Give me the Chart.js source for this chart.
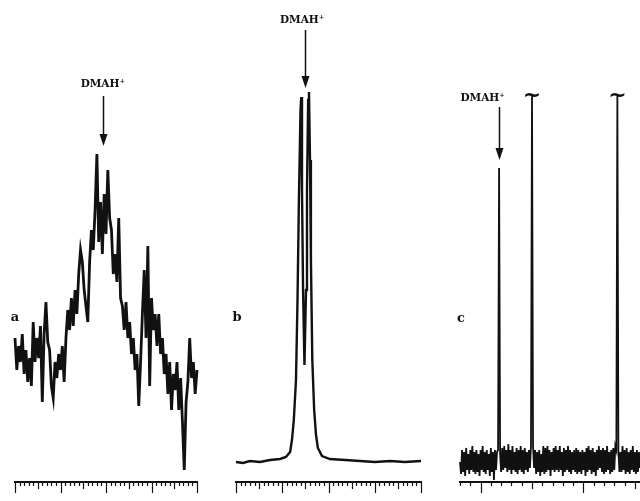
<!DOCTYPE html>
<html lang="en">
<head>
<meta charset="UTF-8" />
<title>DMAH+ spectra a, b, c</title>
<script src="https://cdn.jsdelivr.net/npm/chart.js"></script>
<style>
  html, body { margin: 0; padding: 0; background: #fff; }
  #wrap { position: relative; width: 640px; height: 501px; overflow: hidden; }
  .panel { position: absolute; top: 0; height: 501px; }
</style>
</head>
<body>
<div id="wrap">
  <div class="panel" style="left:0;width:215px"><canvas id="chartA"></canvas></div>
  <div class="panel" style="left:220px;width:210px"><canvas id="chartB"></canvas></div>
  <div class="panel" style="left:440px;width:200px"><canvas id="chartC"></canvas></div>
</div>

<script>
  // spectrum a : noisy broad band (ruler units, relative intensity)
  const aX = [0, 0.4, 0.8, 1.2, 1.6, 2.0, 2.4, 2.8, 3.2, 3.6, 4.0, 4.4, 4.8, 5.2, 5.6, 6.0, 6.4, 6.8, 7.2, 7.6,
    8.0, 8.4, 8.8, 9.2, 9.6, 10.0, 10.4, 10.8, 11.2, 11.6, 12.0, 12.4, 12.8, 13.2, 13.6, 14.0, 14.4, 14.8, 15.2, 15.6,
    16.0, 16.4, 16.8, 17.2, 17.6, 18.0, 18.4, 18.8, 19.2, 19.6, 20.0, 20.4, 20.8, 21.2, 21.6, 22.0, 22.4, 22.8, 23.2, 23.6,
    24.0, 24.4, 24.8, 25.2, 25.6, 26.0, 26.4, 26.8, 27.2, 27.6, 28.0, 28.4, 28.8, 29.2, 29.6, 30.0, 30.4, 30.8, 31.2, 31.6,
    32.0, 32.4, 32.8, 33.2, 33.6, 34.0, 34.4, 34.8, 35.2, 35.6, 36.0, 36.4, 36.8, 37.2, 37.6, 38.0, 38.4, 38.8, 39.2, 39.6,
    40.0, 40.4];
  const aY = [36, 28, 34, 30, 37, 27, 33, 25, 31, 24, 40, 30, 36, 31, 39, 20, 37, 45, 35, 33,
    24, 21, 30, 26, 32, 28, 34, 25, 36, 43, 38, 46, 39, 48, 42, 52, 58, 55, 48, 44,
    40, 55, 63, 58, 68, 82, 60, 70, 57, 72, 62, 78, 66, 63, 52, 57, 50, 66, 46, 44,
    38, 45, 36, 40, 32, 36, 28, 32, 19, 30, 42, 53, 36, 59, 24, 46, 38, 42, 34, 42,
    32, 36, 27, 32, 22, 30, 18, 27, 23, 30, 18, 26, 15, 3, 20, 25, 36, 26, 30, 22,
    28, 20];

  // spectrum b : sharp doublet
  const bX = [0, 1.5, 3.0, 5.2, 7.35, 9.5, 10.8, 11.7, 12.1, 12.5, 12.97, 13.3, 13.6, 13.95, 14.1, 14.27, 14.5, 14.8,
    15.14, 15.35, 15.6, 15.78, 16.0, 16.2, 16.5, 16.9, 17.3, 17.7, 18.6, 20.3, 23.6, 26.8, 30.05, 33.3, 36.5, 40];
  const bY = [5, 4.75, 5.25, 5, 5.5, 5.75, 6.25, 7.5, 10.5, 15.5, 25.5, 45.5, 70.5, 93, 96.25, 73, 48, 29.25,
    48, 73, 95.5, 97.5, 80.5, 55.5, 30.5, 18, 11.75, 8.5, 6.5, 5.75, 5.5, 5.25, 5, 5.25, 5, 5.25];

  // spectrum c : noisy baseline with three narrow lines
  const cX = [0, 0.1, 0.2, 0.3, 0.4, 0.5, 0.6, 0.7, 0.8, 0.9, 1.0, 1.1, 1.2, 1.3, 1.4, 1.5, 1.6, 1.7, 1.8, 1.9,
    2.0, 2.1, 2.2, 2.3, 2.4, 2.5, 2.6, 2.7, 2.8, 2.9, 3.0, 3.1, 3.2, 3.3, 3.4, 3.5, 3.6, 3.7, 3.8, 3.9,
    4.0, 4.1, 4.2, 4.3, 4.4, 4.5, 4.6, 4.7, 4.8, 4.9, 5.0, 5.1, 5.2, 5.3, 5.4, 5.5, 5.6, 5.7, 5.8, 5.9,
    6.0, 6.1, 6.2, 6.3, 6.4, 6.5, 6.6, 6.7, 6.8, 6.9, 7.0, 7.1, 7.2, 7.3, 7.4, 7.5, 7.6, 7.7, 7.8, 7.9,
    8.0, 8.1, 8.2, 8.3, 8.4, 8.5, 8.6, 8.7, 8.8, 8.9, 9.0, 9.1, 9.2, 9.3, 9.4, 9.5, 9.6, 9.7, 9.8, 9.9,
    10.0, 10.1, 10.2, 10.3, 10.4, 10.5, 10.6, 10.7, 10.8, 10.9, 11.0, 11.1, 11.2, 11.3, 11.4, 11.5, 11.6, 11.7, 11.8, 11.9,
    12.0, 12.1, 12.2, 12.3, 12.4, 12.5, 12.6, 12.7, 12.8, 12.9, 13.0, 13.1, 13.2, 13.3, 13.4, 13.5, 13.6, 13.7, 13.8, 13.9,
    14.0, 14.1, 14.2, 14.3, 14.4, 14.5, 14.6, 14.7, 14.8, 14.9, 15.0, 15.1, 15.2, 15.3, 15.4, 15.5, 15.6, 15.7, 15.8, 15.9,
    16.0, 16.1, 16.2, 16.3, 16.4, 16.5, 16.6, 16.7, 16.8, 16.9, 17.0, 17.1, 17.2, 17.3, 17.4, 17.5];
  const cY = [5, 2, 8, 2.5, 7.5, 1.5, 8.5, 3, 7, 2, 8, 3, 9, 2.5, 7.5, 2, 8, 2.5, 7, 1.5,
    8, 3, 9, 2.5, 7.5, 2, 8, 3, 7, 1.5, 8.5, 2.5, 7.5, 0.5, 8, 3, 7.5, 8, 78.5, 7,
    2.5, 8.5, 3, 9, 3.5, 8, 2.5, 9.5, 3, 8, 2, 9, 3, 7.5, 2.5, 8.5, 2, 8, 3, 9,
    2.5, 8, 2, 8.5, 3, 7.5, 2.5, 8, 3.5, 9, 97, 9, 3.5, 8, 2, 7.5, 2.5, 8, 1.5, 7,
    2.5, 9, 2, 8.5, 2.5, 9, 3, 8, 1.5, 7.5, 3, 8.5, 2.5, 9, 3, 8, 2.5, 9, 3, 7.5,
    1.5, 8.5, 2.5, 8, 3, 9, 2.5, 8, 2, 7.5, 3, 8, 2.5, 8.5, 2, 8, 2.5, 7.5, 2, 8,
    3, 7.5, 1.5, 8.5, 2.5, 9, 3, 8, 2, 8.5, 2.5, 7.5, 1.5, 8, 3, 9, 3.5, 8, 2.5, 8.5,
    2, 8, 2.5, 9, 3, 7.5, 2, 8, 2.5, 8.5, 3, 9, 8, 97, 8, 2.5, 7.5, 2.5, 9, 3,
    8, 2, 8.5, 2.5, 7.5, 2, 8, 3, 9, 2.5, 7.5, 2, 8, 2.5, 7.5, 3.5];

  const peakLabel = 'DMAH\u207A';
  const panelNames = ['a', 'b', 'c'];

  const ink = '#111';

  const spectrumMarks = {
    id: 'spectrumMarks',
    afterDatasetsDraw(chart, args, opts) {
      const ctx = chart.ctx;
      const xs = chart.scales.x, ys = chart.scales.y;
      const base = chart.chartArea.bottom;
      ctx.save();
      ctx.strokeStyle = ink;
      ctx.fillStyle = ink;

      // ruler
      ctx.lineWidth = 2;
      ctx.beginPath();
      ctx.moveTo(xs.getPixelForValue(xs.min) - 1, base);
      ctx.lineTo(xs.getPixelForValue(xs.max) + 1, base);
      ctx.stroke();
      ctx.lineWidth = 1.2;
      for (let v = 0; v <= xs.max + 1e-6; v += 1) {
        const k = ((v - opts.longAt) % 10 + 10) % 10;
        const len = k === 0 ? 11 : (k === 5 ? 7 : 4);
        const px = Math.round(xs.getPixelForValue(v)) + 0.5;
        ctx.beginPath();
        ctx.moveTo(px, base);
        ctx.lineTo(px, base + len);
        ctx.stroke();
      }

      // panel letter
      ctx.font = 'bold 13px "DejaVu Serif"';
      ctx.textAlign = 'center';
      ctx.textBaseline = 'middle';
      ctx.fillText(opts.name, xs.getPixelForValue(opts.nameAt[0]), ys.getPixelForValue(opts.nameAt[1]));

      // label + arrow
      ctx.font = 'bold 10.5px "DejaVu Serif"';
      ctx.fillText(peakLabel, xs.getPixelForValue(opts.labelAt[0]), ys.getPixelForValue(opts.labelAt[1]));
      const ax = Math.round(xs.getPixelForValue(opts.arrow[0])) + 0.5;
      const y0 = ys.getPixelForValue(opts.arrow[1]);
      const y1 = ys.getPixelForValue(opts.arrow[2]);
      ctx.lineWidth = 1.5;
      ctx.beginPath();
      ctx.moveTo(ax, y0);
      ctx.lineTo(ax, y1 - 10);
      ctx.stroke();
      ctx.beginPath();
      ctx.moveTo(ax - 4, y1 - 12);
      ctx.lineTo(ax + 4, y1 - 12);
      ctx.lineTo(ax, y1);
      ctx.closePath();
      ctx.fill();

      // off-scale marks
      ctx.font = 'bold 22px "DejaVu Serif"';
      (opts.tildes || []).forEach(t => {
        ctx.fillText('~', xs.getPixelForValue(t[0]), ys.getPixelForValue(t[1]));
      });
      ctx.restore();
    }
  };

  function makeSpectrum(id, xVals, yVals, xMax, padLeft, padRight, lineW, marks) {
    return new Chart(document.getElementById(id), {
      type: 'line',
      data: {
        datasets: [{
          data: xVals.map((x, i) => ({ x: x, y: yVals[i] })),
          borderColor: ink,
          borderWidth: lineW,
          pointRadius: 0,
          tension: 0,
          clip: false
        }]
      },
      options: {
        responsive: true,
        maintainAspectRatio: false,
        animation: false,
        layout: { padding: { left: padLeft, right: padRight, top: 82, bottom: 19 } },
        scales: {
          x: { type: 'linear', min: 0, max: xMax, display: false },
          y: { min: 0, max: 100, display: false }
        },
        plugins: {
          legend: { display: false },
          tooltip: { enabled: false },
          spectrumMarks: marks
        }
      },
      plugins: [spectrumMarks]
    });
  }

  makeSpectrum('chartA', aX, aY, 40, 15, 18, 2.8, {
    name: panelNames[0], nameAt: [0, 41], longAt: 0,
    labelAt: [19.3, 99.5], arrow: [19.3, 96.5, 84]
  });
  makeSpectrum('chartB', bX, bY, 40, 16, 9, 2.4, {
    name: panelNames[1], nameAt: [0.2, 41], longAt: 0,
    labelAt: [14.3, 115.5], arrow: [14.9, 113, 98.5]
  });
  makeSpectrum('chartC', cX, cY, 17.5, 20, 0, 1.8, {
    name: panelNames[2], nameAt: [0.1, 40.75], longAt: 2,
    labelAt: [2.2, 96], arrow: [3.78, 93.75, 80.5],
    tildes: [[7.0, 96.5], [15.3, 96.5]]
  });
</script>
</body>
</html>
